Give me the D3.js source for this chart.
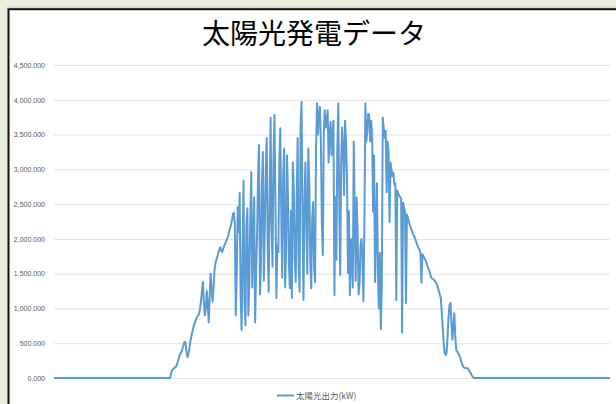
<!DOCTYPE html>
<html>
<head>
<meta charset="utf-8">
<script src="https://cdn.jsdelivr.net/npm/d3@7.9.0/dist/d3.min.js"></script>
<style>
  body { margin: 0; background: #e9efdc; }
  svg { display: block; }
</style>
</head>
<body>
<svg id="chart" width="616" height="404"></svg>
<script>
const chartTitle = "太陽光発電データ";
const seriesName = "太陽光出力(kW)";
const yTicks = [0, 500, 1000, 1500, 2000, 2500, 3000, 3500, 4000, 4500];

// 2.5-minute readings over one day (576 slots)
const solarOutput = [
  0, 0, 0, 0, 0, 0, 0, 0, 0, 0,
  0, 0, 0, 0, 0, 0, 0, 0, 0, 0,
  0, 0, 0, 0, 0, 0, 0, 0, 0, 0,
  0, 0, 0, 0, 0, 0, 0, 0, 0, 0,
  0, 0, 0, 0, 0, 0, 0, 0, 0, 0,
  0, 0, 0, 0, 0, 0, 0, 0, 0, 0,
  0, 0, 0, 0, 0, 0, 0, 0, 0, 0,
  0, 0, 0, 0, 0, 0, 0, 0, 0, 0,
  0, 0, 0, 0, 0, 0, 0, 0, 0, 0,
  0, 0, 0, 0, 0, 0, 0, 0, 0, 0,
  0, 0, 0, 0, 0, 0, 0, 0, 0, 0,
  0, 0, 0, 0, 0, 0, 0, 0, 0, 0,
  0, 60, 110, 125, 140, 150, 160, 190, 230, 280,
  330, 360, 380, 430, 480, 520, 510, 380, 300, 350,
  420, 520, 600, 660, 720, 770, 810, 850, 880, 900,
  920, 1000, 1100, 1250, 1380, 1100, 900, 1000, 1250, 1050,
  800, 1200, 1500, 1250, 1100, 1300, 1550, 1650, 1700, 1750,
  1800, 1850, 1880, 1830, 1810, 1860, 1900, 1930, 1960, 2000,
  2030, 2100, 2150, 2200, 2270, 2350, 2380, 2200, 900, 1500,
  2460, 2100, 2660, 1200, 690, 1800, 2840, 1100, 760, 2200,
  2440, 900, 1380, 2300, 2960, 1300, 1900, 2600, 800, 1500,
  2050, 2900, 3350, 1200, 1580, 2800, 3250, 1400, 2150, 3000,
  3450, 1900, 1240, 2600, 3740, 2200, 1600, 3200, 3780, 2500,
  1150, 1900, 1810, 3100, 3590, 2400, 1440, 2900, 3300, 1300,
  1800, 3200, 2590, 1600, 1290, 2400, 1150, 3100, 2730, 1700,
  1380, 2600, 3450, 1600, 1240, 3600, 3970, 2300, 1120, 2500,
  3100, 2200, 1500, 3300, 2800, 1700, 1290, 2300, 2530, 1600,
  1380, 3300, 3950, 3500, 3800, 3900, 3400, 2230, 1770, 3500,
  3850, 3600, 3700, 3850, 3100, 3500, 3680, 3200, 3500, 3700,
  1190, 2600, 1700, 3300, 3950, 2500, 1480, 3100, 3600, 3300,
  2630, 3700, 3400, 2900, 1510, 2400, 1190, 2000, 1700, 1300,
  3400, 2300, 1400, 2600, 2100, 1200, 1350, 1900, 2000, 1700,
  1100, 2200, 3950, 3400, 3530, 3800, 3780, 3400, 3700, 3500,
  2390, 3200, 1380, 2100, 2800, 1500, 1000, 1800, 700, 1300,
  3740, 3600, 3450, 3550, 2670, 3400, 3250, 2240, 3100, 3000,
  2900, 2950, 2780, 2800, 1120, 2700, 2650, 2620, 2600, 2580,
  650, 2520, 2450, 2400, 1080, 2350, 2310, 2250, 2200, 2160,
  2120, 2080, 2050, 2020, 1980, 1940, 1900, 1870, 1840, 1800,
  1370, 1780, 1750, 1720, 1700, 1660, 1620, 1580, 1550, 1500,
  1450, 1430, 1420, 1410, 1400, 1370, 1340, 1300, 1250, 1200,
  1150, 950, 730, 500, 360, 330, 360, 600, 880, 1050,
  1080, 800, 550, 750, 930, 600, 400, 380, 360, 330,
  300, 250, 200, 170, 150, 145, 140, 140, 140, 110,
  90, 70, 40, 20, 0,
  0, 0, 0, 0, 0, 0, 0, 0, 0, 0,
  0, 0, 0, 0, 0, 0, 0, 0, 0, 0,
  0, 0, 0, 0, 0, 0, 0, 0, 0, 0,
  0, 0, 0, 0, 0, 0, 0, 0, 0, 0,
  0, 0, 0, 0, 0, 0, 0, 0, 0, 0,
  0, 0, 0, 0, 0, 0, 0, 0, 0, 0,
  0, 0, 0, 0, 0, 0, 0, 0, 0, 0,
  0, 0, 0, 0, 0, 0, 0, 0, 0, 0,
  0, 0, 0, 0, 0, 0, 0, 0, 0, 0,
  0, 0, 0, 0, 0, 0, 0, 0, 0, 0,
  0, 0, 0, 0, 0, 0, 0, 0, 0, 0,
  0, 0, 0, 0, 0, 0, 0, 0, 0, 0,
  0, 0, 0, 0, 0, 0, 0, 0, 0, 0,
  0, 0, 0, 0, 0, 0, 0, 0, 0, 0,
  0
];

const lineColor = "#5b9bd5";
const svg = d3.select("#chart");

// chart frame
svg.append("line")
  .attr("x1", 7).attr("x2", 616).attr("y1", 7).attr("y2", 7)
  .attr("stroke", "#c4c9bb").attr("stroke-width", 1);
svg.append("rect")
  .attr("x", 8.5).attr("y", 9.2)
  .attr("width", 640).attr("height", 420)
  .attr("fill", "#ffffff")
  .attr("stroke", "#111").attr("stroke-width", 2);

const x = d3.scaleLinear()
  .domain([0, solarOutput.length - 1])
  .range([54, 610]);

const y = d3.scaleLinear()
  .domain([0, 4500])
  .range([378, 65]);

// gridlines + labels
const yAxis = d3.axisLeft(y)
  .tickValues(yTicks)
  .tickSize(-(610 - 54))
  .tickPadding(9)
  .tickFormat(d3.format(",.3f"));

const gAxis = svg.append("g")
  .attr("transform", "translate(54,0)")
  .call(yAxis);
gAxis.select(".domain").remove();
gAxis.selectAll(".tick line")
  .attr("stroke", "#e3e3e3")
  .attr("stroke-width", 1);
gAxis.selectAll(".tick text")
  .attr("fill", "#595959")
  .attr("font-family", "'Liberation Sans', Arial, sans-serif")
  .attr("font-size", "7px");

// series line
const line = d3.line()
  .x((d, i) => x(i))
  .y((d) => y(d));

svg.append("path")
  .datum(solarOutput)
  .attr("d", line)
  .attr("fill", "none")
  .attr("stroke", lineColor)
  .attr("stroke-width", 2)
  .attr("stroke-linejoin", "round");

// title
svg.append("text")
  .attr("x", 314)
  .attr("y", 44)
  .attr("text-anchor", "middle")
  .attr("font-family", "'Noto Sans CJK JP', sans-serif")
  .attr("font-size", "28px")
  .attr("fill", "#000")
  .text(chartTitle);

// legend
const legend = svg.append("g").attr("transform", "translate(277,395.5)");
legend.append("line")
  .attr("x1", 0).attr("x2", 17)
  .attr("stroke", lineColor).attr("stroke-width", 2);
legend.append("text")
  .attr("x", 19).attr("y", 3)
  .attr("font-family", "'Noto Sans CJK JP', sans-serif")
  .attr("font-size", "8.5px")
  .attr("fill", "#595959")
  .text(seriesName);
</script>
</body>
</html>
